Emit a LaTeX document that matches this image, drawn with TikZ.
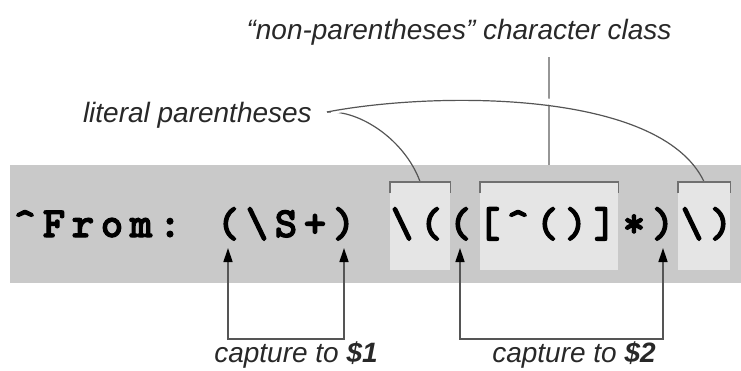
\documentclass[tikz,border=0pt]{standalone}
\usepackage{fontspec}
\usepackage{tikz}
\usetikzlibrary{arrows.meta, positioning, calc}
\newfontfamily\codefont[FakeBold=2.5]{lmmonolt10-bold.otf}
\newfontfamily\notefont{Liberation Sans}
\definecolor{bandgray}{RGB}{201, 201, 201}
\definecolor{boxgray}{RGB}{229, 229, 229}
\definecolor{brkgray}{RGB}{112, 112, 112}
\definecolor{stemgray}{RGB}{150, 150, 150}
\definecolor{linegray}{RGB}{85, 85, 85}
\definecolor{notegray}{RGB}{40, 40, 40}

\tikzset{
  band/.style={fill=bandgray, inner sep=0, anchor=north west},
  litbox/.style={fill=boxgray, inner sep=0, minimum height=88, anchor=north west},
  bracket/.style={draw=brkgray, line width=1.8pt},
  code/.style={inner sep=0, anchor=base, font=\codefont\fontsize{43}{45}\selectfont},
  note/.style={inner sep=0, text=notegray, font=\notefont\itshape\fontsize{28}{30}\selectfont},
  curve/.style={draw=linegray, line width=1.2pt},
  stem/.style={draw=stemgray, line width=2pt},
  captip/.tip={Triangle[length=14pt, width=9pt, color=black]},
  capture/.style={draw=linegray, line width=1.4pt, captip-captip}
}

\begin{document}
\begin{tikzpicture}[x=1pt, y=-1pt]
    \useasboundingbox (0,0) rectangle (741,370);

    % Gray strip and the three highlighted groups
    \node[band, minimum width=731, minimum height=118] (band) at (10,165) {};
    \node[litbox, minimum width=60] (box1) at (390,182) {};
    \node[litbox, minimum width=138] (box2) at (480,182) {};
    \node[litbox, minimum width=52] (box3) at (678,182) {};

    % The regex, one character per cell
    \foreach \ch [count=\i from 0] in {\textasciicircum, F, r, o, m, :, {}, {(}, \textbackslash, S, +, {)}, {},
        \textbackslash, {(}, {(}, {[}, \textasciicircum, {(}, {)}, {]}, *, {)}, \textbackslash, {)}}
        \node[code] (c\i) at (25+29*\i,237) {\ch};

    % Labels
    \node[note, anchor=base east] (lit) at (312,122) {literal parentheses};
    \coordinate (fork) at (327,112);
    \node[note, anchor=base] (cls) at (459,39) {“non-parentheses” character class};
    \node[note, anchor=base] (cap1) at (296,362) {capture to \textbf{\$1}};
    \node[note, anchor=base] (cap2) at (574,362) {capture to \textbf{\$2}};

    % Character class pointer
    \draw[stem] (cls.base -| box2.north) ++(0,18) -- (box2.north |- band.north);

    % Literal parentheses pointers
    \draw[curve] (fork) .. controls (360,110) and (405,140) .. (box1.north);
    \draw[curve, preaction={draw=white, line width=6pt, shorten <=4pt, shorten >=30pt}]
        (fork) .. controls (430,92) and (660,88) .. (box3.north);

    % Brackets over the groups
    \foreach \b in {box1, box2, box3}
        \draw[bracket] ([yshift=-11pt]\b.north west) -- (\b.north west) -- (\b.north east) -- ([yshift=-11pt]\b.north east);

    % Capture groups
    \coordinate (low) at (0,328);
    \draw[capture] ([yshift=-11pt]c7.base) -- ([yshift=-11pt]c7.base |- low) -| ([yshift=-11pt]c11.base);
    \draw[capture] ([yshift=-11pt]c15.base) -- ([yshift=-11pt]c15.base |- low) -| ([yshift=-11pt]c22.base);
\end{tikzpicture}
\end{document}
